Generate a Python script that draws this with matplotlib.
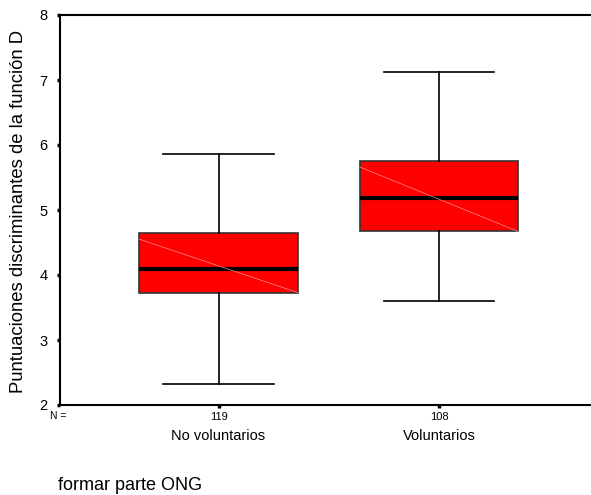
import numpy as np
import matplotlib.pyplot as plt

plt.rcParams['font.family'] = ['Liberation Sans', 'DejaVu Sans']

# boxplot stats
groups = ['No voluntarios', 'Voluntarios']
counts = [119, 108]
whislo = [2.33, 3.60]
q1 = [3.73, 4.67]
med = [4.10, 5.18]
q3 = [4.65, 5.76]
whishi = [5.86, 7.13]

stats = []
for i in range(len(groups)):
    stats.append(dict(label=groups[i], whislo=whislo[i], q1=q1[i], med=med[i],
                      q3=q3[i], whishi=whishi[i], fliers=[]))

fig = plt.figure(figsize=(5.91, 4.95), dpi=100)
ax = fig.add_axes([60 / 591, 90 / 495, 531 / 591, 390 / 495])

pos = [1, 2]
bw = 0.717
ax.bxp(stats, positions=pos, widths=bw, capwidths=0.5, patch_artist=True,
       showfliers=False,
       boxprops=dict(facecolor='#ff0000', edgecolor='#333333', linewidth=1.2),
       medianprops=dict(color='black', linewidth=3),
       whiskerprops=dict(color='black', linewidth=1.2),
       capprops=dict(color='black', linewidth=1.2))

# faint diagonal across each box
for i, p in enumerate(pos):
    ax.plot([p - bw / 2, p + bw / 2], [q3[i] - 0.1, q1[i]], color='#ff9090',
            linewidth=0.5, zorder=3)

ax.set_xlim(0.281, 2.689)
ax.set_ylim(2, 8)
ax.set_yticks(range(2, 9))
ax.set_xticks(pos)
ax.set_xticklabels([str(c) for c in counts], fontsize=8)
ax.spines['right'].set_visible(False)
for s in ['left', 'top', 'bottom']:
    ax.spines[s].set_linewidth(1.5)
ax.tick_params(axis='y', length=2, width=2.5, labelsize=10.5, pad=7)
ax.tick_params(axis='x', length=2, width=2.5, pad=3)

fig.text(19 / 591, 1 - 211 / 495, 'Puntuaciones discriminantes de la función D',
         fontsize=13.3, rotation=90, ha='center', va='center')

fig.text(58 / 591, 1 - 416 / 495, 'N =', fontsize=7.5, ha='center', va='center')
for i, p in enumerate(pos):
    xf = ax.transData.transform((p, 0))[0] / fig.bbox.width
    fig.text(xf, 1 - 436 / 495, groups[i], fontsize=10.5, ha='center', va='center')

fig.text(58 / 591, 1 - 486 / 495, 'formar parte ONG', fontsize=13, ha='left', va='center')

plt.savefig('out.png', dpi=100)
